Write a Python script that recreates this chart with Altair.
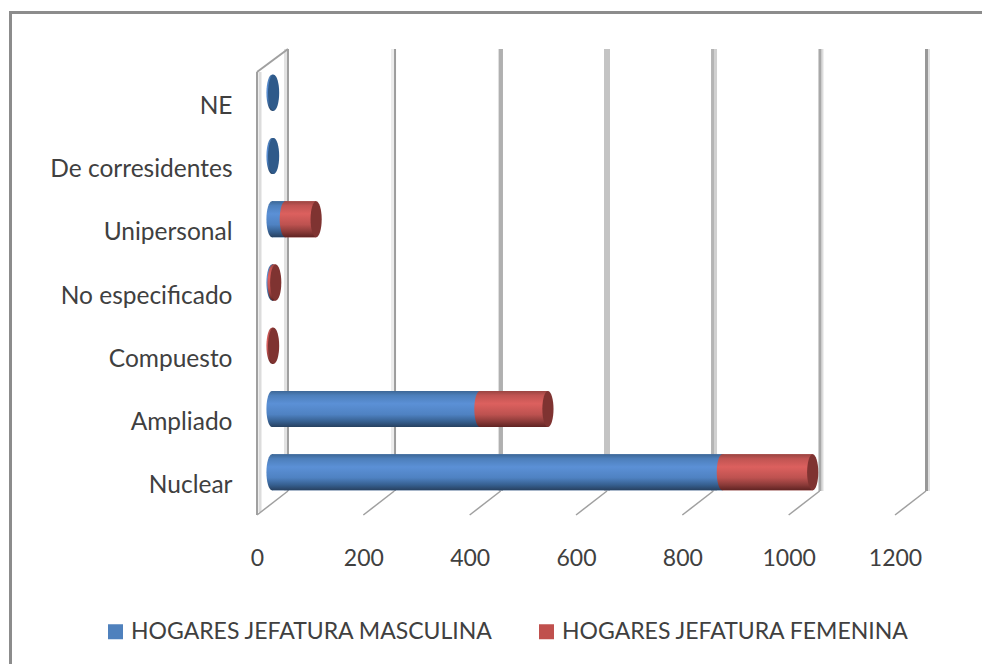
import altair as alt
import pandas as pd

# Household types and head-of-household counts
categories = ["NE", "De corresidentes", "Unipersonal", "No especificado", "Compuesto", "Ampliado", "Nuclear"]
masculina = [3, 3, 25, 2, 0, 391, 847]
femenina = [0, 0, 58, 5, 3, 128, 170]
x_ticks = [0, 200, 400, 600, 800, 1000, 1200]
series_names = ["HOGARES JEFATURA MASCULINA", "HOGARES JEFATURA FEMENINA"]

FONT = "Lato"
TEXT = "#404040"
GRID = "#a0a0a0"
GRID_SOFT = "#dcdcdc"
DEPTH_PX = 31
DEPTH_VALUE = DEPTH_PX * 1200 / 638
BAR_SHIFT = 15
BAR_H = 36
ELLIPSE = "M0,-1 A0.31,1 0 1 1 0,1 A0.31,1 0 1 1 0,-1 Z"

# Back-wall gridline styling per tick: (colour, width, nudge), then its soft edge
wall_styles = {
    0: (("#a0a0a0", 2, 0), ("#e2e2e2", 3, -2.5)),
    200: (("#9c9c9c", 2, 0.7), ("#ececec", 3, -1.8)),
    400: (("#b0b0b0", 4, 0.3), ("#e0e0e0", 1, -2.2)),
    600: (("#c4c4c4", 6, 0), None),
    800: (("#b4b4b4", 3, -0.8), ("#d0d0d0", 3, 2.2)),
    1000: (("#a8a8a8", 3, 0.3), ("#dcdcdc", 2, 2.8)),
    1200: (("#989898", 3, 0.5), ("#e0e0e0", 2, 3)),
}

rows = []
for cat, m, f in zip(categories, masculina, femenina):
    rows.append(dict(cat=cat, serie=series_names[0], start=0, end=m, total=m + f))
    rows.append(dict(cat=cat, serie=series_names[1], start=m, end=m + f, total=m + f))
segments = pd.DataFrame(rows)
seg_m = segments[segments.serie == series_names[0]]
seg_f = segments[segments.serie == series_names[1]]

ends = pd.DataFrame(dict(cat=categories, total=[m + f for m, f in zip(masculina, femenina)], fem=femenina))
ticks = pd.DataFrame(dict(v=x_ticks))

# Floor diagonals and the top edge of the side wall, in pixels below the plot top
floor = pd.DataFrame(
    [dict(t=v, x=v, d=455) for v in x_ticks] + [dict(t=v, x=v + DEPTH_VALUE, d=431) for v in x_ticks]
)
wall_top = pd.DataFrame([dict(t=0, x=0, d=12), dict(t=0, x=DEPTH_VALUE, d=-11)])


def grad(stops):
    return alt.Gradient(
        gradient="linear", x1=0, y1=0, x2=0, y2=1,
        stops=[alt.GradientStop(offset=o, color=c) for o, c in stops],
    )


blue = grad([(0, "#3d6796"), (0.12, "#4d7fbb"), (0.35, "#5b90d6"), (0.65, "#4f82c2"), (0.85, "#365f8f"), (1, "#27405f")])
red = grad([(0, "#9a4542"), (0.12, "#c05452"), (0.35, "#dc605e"), (0.65, "#bd5250"), (0.85, "#8a3a38"), (1, "#5f2322")])

x_scale = alt.Scale(domain=[0, 1200])
y_scale = alt.Scale(domain=categories)
px_scale = alt.Scale(domain=[0, 443], range=[0, 443])

# Value axis: labels only, along the front edge of the floor
x_axis = alt.Axis(
    values=x_ticks, title=None, grid=False, domain=False, ticks=False, labelPadding=44, format="d",
    labelFont=FONT, labelFontSize=23, labelColor=TEXT, labelFlush=False,
)
y_axis = alt.Axis(
    title=None, grid=False, domain=False, ticks=False, labelPadding=25, labelOffset=15,
    labelFont=FONT, labelFontSize=24.5, labelColor=TEXT, labelLimit=260,
)
legend = alt.Legend(
    orient="none", legendX=-153, legendY=560, direction="horizontal", title=None,
    symbolType="square", symbolSize=225, symbolStrokeWidth=0, labelFont=FONT, labelFontSize=23,
    labelColor=TEXT, labelLimit=420, columnPadding=41, labelOffset=4,
)


def xpos(field):
    return alt.X(f"{field}:Q", scale=x_scale, axis=x_axis)


frame_left = alt.Chart(ticks.head(1)).mark_rule(color="#8c8c8c", strokeWidth=3).encode(
    x=alt.value(-246.5), y=alt.value(-49), y2=alt.value(604))
frame_top = alt.Chart(ticks.head(1)).mark_rule(color="#8c8c8c", strokeWidth=3).encode(
    y=alt.value(-47.5), x=alt.value(-248), x2=alt.value(725))


def wall_line(v, style):
    color, width, nudge = style
    return alt.Chart(ticks[ticks.v == v]).mark_rule(
        color=color, strokeWidth=width, xOffset=DEPTH_PX + nudge
    ).encode(x=xpos("v"), y=alt.value(-11), y2=alt.value(431))


wall_layers = []
for v, (main, soft) in wall_styles.items():
    if soft is not None:
        wall_layers.append(wall_line(v, soft))
    wall_layers.append(wall_line(v, main))

left_wall = alt.Chart(ticks.head(1)).mark_rule(color=GRID, strokeWidth=2).encode(
    x=xpos("v"), y=alt.value(12), y2=alt.value(455))
left_soft = alt.Chart(ticks.head(1)).mark_rule(color=GRID_SOFT, strokeWidth=3, xOffset=3).encode(
    x=xpos("v"), y=alt.value(12), y2=alt.value(452))
diagonals = alt.Chart(floor).mark_line(color=GRID, strokeWidth=1.5).encode(
    x=xpos("x"), y=alt.Y("d:Q", scale=px_scale, axis=None), detail="t:N")
top_edge = alt.Chart(wall_top).mark_line(color=GRID, strokeWidth=2).encode(
    x=xpos("x"), y=alt.Y("d:Q", scale=px_scale, axis=None), detail="t:N")

# Flat bars carry the category axis and the colour legend; the shaded layers sit on top
flat = alt.Chart(segments).mark_bar(size=BAR_H, xOffset=BAR_SHIFT, x2Offset=BAR_SHIFT, yOffset=1).encode(
    x=xpos("start"),
    x2="end:Q",
    y=alt.Y("cat:N", scale=y_scale, axis=y_axis),
    color=alt.Color(
        "serie:N", legend=legend,
        scale=alt.Scale(domain=series_names, range=["#4f81bd", "#c0504d"]),
    ),
)


def body(df, fill):
    return alt.Chart(df).mark_bar(size=BAR_H, xOffset=BAR_SHIFT, x2Offset=BAR_SHIFT, yOffset=1, fill=fill).encode(
        x=xpos("start"), x2="end:Q",
        y=alt.Y("cat:N", scale=y_scale, axis=None))


def cap(df, field, fill):
    return alt.Chart(df).mark_point(
        shape=ELLIPSE, size=BAR_H * BAR_H, filled=True, opacity=1, fill=fill, strokeWidth=0,
        xOffset=BAR_SHIFT, yOffset=1,
    ).encode(
        x=xpos(field),
        y=alt.Y("cat:N", scale=y_scale, axis=None))


chart = alt.layer(
    frame_left, frame_top, *wall_layers, left_soft, left_wall, diagonals, top_edge,
    flat,
    cap(seg_m[seg_m.end > 0], "start", blue),
    body(seg_m, blue),
    cap(seg_f[seg_f.end > seg_f.start], "start", red),
    body(seg_f, red),
    cap(ends[ends.fem == 0], "total", "#2f5a8a"),
    cap(ends[ends.fem > 0], "total", "#7f3331"),
).resolve_scale(y="independent").properties(
    width=638, height=443,
    autosize=alt.AutoSizeParams(type="none"),
    padding={"left": 257, "top": 60, "right": 87, "bottom": 161},
    background="white",
).configure_view(stroke=None)

chart.save("out.html", embed_options={"renderer": "svg", "actions": False})
